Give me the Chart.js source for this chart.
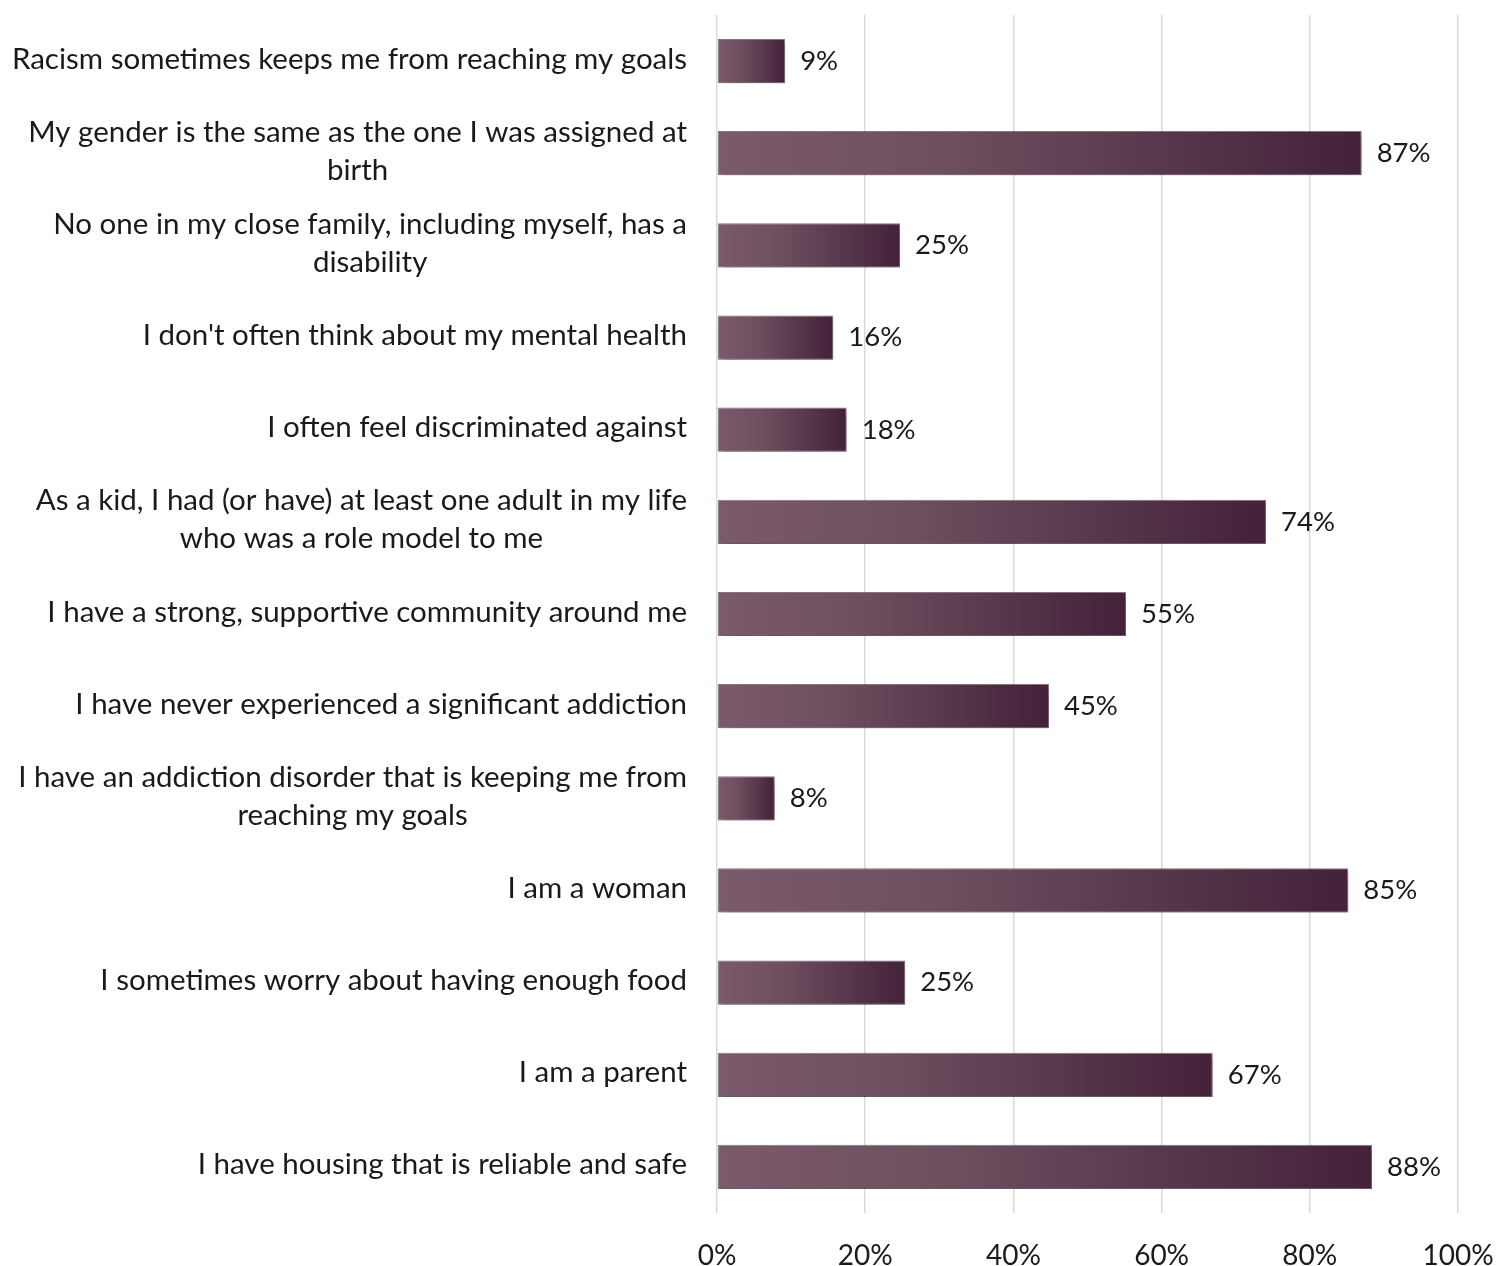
<!DOCTYPE html>
<html>
<head>
<meta charset="utf-8">
<script src="https://cdn.jsdelivr.net/npm/chart.js@4.4.1/dist/chart.umd.min.js"></script>
<style>
  html, body { margin: 0; padding: 0; background: #fff; }
  canvas { display: block; }
</style>
</head>
<body>
<canvas id="chart" width="1496" height="1266"></canvas>
<script>
"use strict";
//---------------- data ----------------------------------------
const categories = [
  "Racism sometimes keeps me from reaching my goals",
  ["My gender is the same as the one I was assigned at", "birth"],
  ["No one in my close family, including myself, has a", "disability"],
  "I don't often think about my mental health",
  "I often feel discriminated against",
  ["As a kid, I had (or have) at least one adult in my life", "who was a role model to me"],
  "I have a strong, supportive community around me",
  "I have never experienced a significant addiction",
  ["I have an addiction disorder that is keeping me from", "reaching my goals"],
  "I am a woman",
  "I sometimes worry about having enough food",
  "I am a parent",
  "I have housing that is reliable and safe"
];
const values = [9.2, 87.0, 24.7, 15.7, 17.5, 74.1, 55.2, 44.8, 7.8, 85.2, 25.4, 66.9, 88.4];
const tickValues = [0, 20, 40, 60, 80, 100];

const FONT = "Lato, 'Open Sans', sans-serif";

//---------------- bar gradient per bar -------------------------
function barFill(context) {
  let chart = context.chart;
  let area = chart.chartArea;
  if (!area) return "#6a4a5a";
  let x = chart.scales.x;
  let x0 = x.getPixelForValue(0);
  let x1 = x.getPixelForValue(context.raw);
  let g = chart.ctx.createLinearGradient(x0, 0, x1, 0);
  g.addColorStop(0, "#7b5b6b");
  g.addColorStop(0.35, "#6e4f5f");
  g.addColorStop(1, "#43223a");
  return g;
}

//---------------- plugins --------------------------------------
// shadow under the bars
const barShadow = {
  id: "barShadow",
  beforeDatasetsDraw(chart) {
    let ctx = chart.ctx;
    ctx.save();
    ctx.shadowColor = "rgba(0,0,0,0.35)";
    ctx.shadowBlur = 5;
    ctx.shadowOffsetX = 2;
    ctx.shadowOffsetY = 3;
  },
  afterDatasetsDraw(chart) {
    chart.ctx.restore();
  }
};

// category labels: block right aligned, lines centered
const categoryLabels = {
  id: "categoryLabels",
  afterDraw(chart) {
    let ctx = chart.ctx;
    let y = chart.scales.y;
    let right = chart.chartArea.left - 30;
    let lineH = 38;
    ctx.save();
    ctx.font = "29.5px " + FONT;
    ctx.fillStyle = "#1a1a1a";
    ctx.textBaseline = "middle";
    ctx.textAlign = "center";
    categories.forEach((label, i) => {
      let lines = Array.isArray(label) ? label : [label];
      let widest = Math.max(...lines.map(l => ctx.measureText(l).width));
      let cx = right - widest / 2;
      let cy = y.getPixelForValue(i) - 2;
      let startY = cy - (lines.length - 1) * lineH / 2;
      lines.forEach((l, j) => {
        ctx.fillText(l, cx, startY + j * lineH);
      });
    });
    ctx.restore();
  }
};

// value labels at bar ends
const valueLabels = {
  id: "valueLabels",
  afterDatasetsDraw(chart) {
    let ctx = chart.ctx;
    let meta = chart.getDatasetMeta(0);
    ctx.save();
    ctx.font = "27.5px " + FONT;
    ctx.fillStyle = "#1a1a1a";
    ctx.textBaseline = "middle";
    ctx.textAlign = "left";
    meta.data.forEach((bar, i) => {
      ctx.fillText(Math.round(values[i]) + "%", bar.x + 15, bar.y);
    });
    ctx.restore();
  }
};

//---------------- chart ----------------------------------------
let chart = new Chart(document.getElementById("chart"), {
  type: "bar",
  data: {
    labels: categories,
    datasets: [{
      data: values,
      backgroundColor: barFill,
      borderColor: "rgba(60,30,45,0.6)",
      borderWidth: 1,
      borderSkipped: false,
      barPercentage: 0.48,
      categoryPercentage: 1
    }]
  },
  options: {
    indexAxis: "y",
    responsive: false,
    animation: false,
    layout: { padding: { left: 717, right: 38, top: 15, bottom: 0 } },
    plugins: {
      legend: { display: false },
      tooltip: { enabled: false }
    },
    scales: {
      y: {
        grid: { display: false },
        border: { display: false },
        ticks: { display: false },
        afterFit(scale) { scale.width = 0; }
      },
      x: {
        min: 0,
        max: 100,
        afterBuildTicks(scale) {
          scale.ticks = tickValues.map(v => ({ value: v }));
        },
        grid: { color: "#d9d9d9", lineWidth: 1.5, drawTicks: false },
        border: { display: false },
        ticks: {
          padding: 26,
          color: "#1a1a1a",
          font: { family: FONT, size: 28 },
          callback: v => v + "%"
        },
        afterFit(scale) {
          scale.height = 1266 - 1213;
          scale.paddingLeft = 0;
          scale.paddingRight = 0;
        }
      }
    }
  },
  plugins: [barShadow, valueLabels, categoryLabels]
});
</script>
</body>
</html>
